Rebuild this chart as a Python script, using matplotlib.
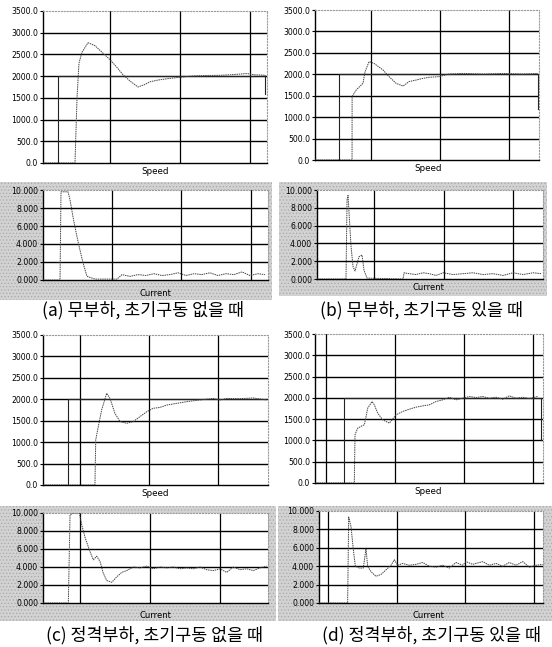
import numpy as np
import matplotlib
matplotlib.use('Agg')
import matplotlib.pyplot as plt
from matplotlib.patches import Rectangle

# figure size in pixels
W, H = 552, 647

# axis ticks / labels
speed_ticks = [0, 500, 1000, 1500, 2000, 2500, 3000, 3500]
speed_labels = ['0.0', '500.0', '1000.0', '1500.0', '2000.0', '2500.0', '3000.0', '3500.0']
current_ticks = [0, 2, 4, 6, 8, 10]
current_labels = ['0.000', '2.000', '4.000', '6.000', '8.000', '10.000']
time_grid = [1, 2, 3, 4]

captions = ['(a) 무부하, 초기구동 없을 때', '(b) 무부하, 초기구동 있을 때',
            '(c) 정격부하, 초기구동 없을 때', '(d) 정격부하, 초기구동 있을 때']

# (a) no load, no initial drive
a_ref_t = [0.04, 0.257, 0.257, 3.214, 3.214]
a_ref_v = [0, 0, 2000, 2000, 1600]
a_speed_t = [0.043, 0.5, 0.529, 0.557, 0.6, 0.686, 0.786, 0.9, 1.0, 1.1, 1.186, 1.3, 1.4,
             1.486, 1.571, 1.686, 1.814, 2.0, 2.186, 2.386, 2.571, 2.757, 2.957, 3.071,
             3.186, 3.229]
a_speed_v = [0, 0, 1500, 2300, 2550, 2770, 2700, 2530, 2380, 2200, 2030, 1870, 1750,
             1800, 1870, 1910, 1940, 1975, 2005, 2015, 2020, 2035, 2060, 2030, 2025, 2010]
a_cur_t = [0.007, 0.252, 0.266, 0.367, 0.396, 0.439, 0.496, 0.54, 0.583, 0.64, 0.755, 1.072,
           1.144, 1.259, 1.374, 1.489, 1.604, 1.719, 1.835, 1.95, 2.065, 2.18, 2.295, 2.41,
           2.525, 2.64, 2.755, 2.871, 2.986, 3.101, 3.201]
a_cur_v = [0, 0, 9.8, 9.8, 8.9, 7.0, 4.8, 3.3, 1.9, 0.4, 0.1, 0.1,
           0.6, 0.4, 0.6, 0.5, 0.7, 0.5, 0.6, 0.8, 0.5, 0.7, 0.6, 0.8,
           0.5, 0.7, 0.6, 0.9, 0.5, 0.7, 0.6]

# (b) no load, with initial drive
b_ref_t = [0.19, 0.536, 0.536, 3.425, 3.425]
b_ref_v = [0, 0, 2000, 2000, 1200]
b_speed_t = [0.188, 0.725, 0.726, 0.783, 0.884, 0.913, 0.971, 1.043, 1.174, 1.261, 1.362,
             1.464, 1.551, 1.652, 1.754, 1.841, 1.986, 2.13, 2.333, 2.623, 2.913, 3.203, 3.42]
b_speed_v = [0, 0, 1480, 1630, 1790, 2060, 2295, 2255, 2100, 1945, 1790,
             1725, 1830, 1865, 1905, 1930, 1945, 2005, 2020, 2005, 2020, 2005, 2020]
b_cur_t = [0.18, 0.597, 0.612, 0.626, 0.669, 0.698, 0.727, 0.784, 0.827, 0.856, 0.899, 1.417,
           1.432, 1.504, 1.604, 1.705, 1.791, 1.892, 1.993, 2.137, 2.281, 2.424, 2.568,
           2.712, 2.856, 3.0, 3.144, 3.288, 3.403]
b_cur_v = [0, 0, 8.9, 9.4, 3.7, 1.4, 0.9, 2.5, 2.7, 1.0, 0.1, 0.0,
           0.7, 0.6, 0.5, 0.7, 0.6, 0.4, 0.7, 0.5, 0.6, 0.7, 0.5,
           0.6, 0.4, 0.7, 0.5, 0.7, 0.6]

# (c) rated load, no initial drive
c_ref_t = [0.47, 0.826, 0.826, 3.72]
c_ref_v = [0, 0, 2000, 2000]
c_speed_t = [0.464, 1.217, 1.228, 1.265, 1.314, 1.387, 1.435, 1.507, 1.58, 1.677, 1.772,
             1.87, 1.967, 2.062, 2.159, 2.257, 2.401, 2.546, 2.739, 2.932, 3.029, 3.126,
             3.319, 3.512, 3.706]
c_speed_v = [0, 0, 1050, 1360, 1750, 2140, 2020, 1670, 1480, 1440, 1480,
             1595, 1710, 1790, 1810, 1865, 1905, 1945, 1985, 2020, 1985, 2020,
             2015, 2030, 1985]
c_cur_t = [0.471, 0.833, 0.857, 0.905, 0.99, 1.024, 1.071, 1.143, 1.19, 1.239, 1.286, 1.333,
           1.381, 1.453, 1.524, 1.596, 1.667, 1.761, 1.857, 1.953, 2.047, 2.143, 2.239,
           2.333, 2.429, 2.524, 2.619, 2.714, 2.81, 2.904, 3.0, 3.096, 3.19, 3.286, 3.381,
           3.476, 3.571, 3.667]
c_cur_v = [0, 0, 9.8, 10, 10, 8.7, 7.3, 5.7, 4.8, 5.2, 4.6, 3.3,
           2.5, 2.3, 2.9, 3.4, 3.6, 4.0, 3.9, 4.1, 3.8, 4.0, 3.9,
           4.0, 3.8, 3.9, 3.8, 4.0, 3.7, 3.6, 3.8, 3.4, 4.0, 3.7, 3.8,
           3.6, 3.9, 4.1]

# (d) rated load, with initial drive
d_ref_t = [0.85, 1.261, 1.261, 4.116, 4.116]
d_ref_v = [0, 0, 2000, 2000, 1020]
d_speed_t = [0.84, 1.41, 1.42, 1.459, 1.522, 1.556, 1.604, 1.667, 1.7, 1.749, 1.821, 1.918,
             1.976, 2.014, 2.111, 2.208, 2.304, 2.401, 2.498, 2.594, 2.691, 2.787, 2.884,
             2.981, 3.077, 3.174, 3.271, 3.367, 3.464, 3.561, 3.657, 3.754, 3.851, 3.947,
             4.068]
d_speed_v = [0, 0, 1133, 1289, 1344, 1367, 1758, 1914, 1836, 1640, 1484, 1406,
             1523, 1601, 1680, 1734, 1781, 1812, 1836, 1914, 1953, 2015, 1953,
             1992, 2031, 2008, 2031, 1992, 2015, 1969, 2047, 1992, 2015, 1984,
             2031]
d_cur_t = [0.869, 1.286, 1.301, 1.335, 1.369, 1.398, 1.456, 1.514, 1.553, 1.577, 1.626,
           1.699, 1.771, 1.844, 1.917, 1.966, 2.014, 2.087, 2.184, 2.281, 2.378, 2.475,
           2.572, 2.669, 2.766, 2.863, 2.961, 3.009, 3.106, 3.252, 3.348, 3.445, 3.542,
           3.639, 3.737, 3.834, 3.93, 4.028, 4.125]
d_cur_v = [0, 0, 9.35, 8.3, 5.8, 4.0, 3.8, 3.8, 5.9, 4.0, 3.4,
           2.9, 3.1, 3.6, 4.1, 4.7, 4.1, 4.3, 4.1, 4.2, 4.4, 4.0,
           3.9, 4.1, 3.8, 4.4, 4.1, 4.5, 4.2, 4.5, 4.1, 4.3, 4.0,
           4.4, 4.1, 4.5, 3.9, 4.1, 4.2]

plt.rcParams['font.family'] = ['DejaVu Sans']
plt.rcParams['hatch.linewidth'] = 0.5

fig = plt.figure(figsize=(W / 100, H / 100), dpi=100)
fig.patch.set_facecolor('white')


def rect(l, t, r, b):
    # pixel box -> figure fraction
    return [l / W, 1 - b / H, (r - l) / W, (b - t) / H]


def style_axes(ax, ticks, labels, xlim, ylim):
    ax.set_xlim(*xlim)
    ax.set_ylim(*ylim)
    ax.set_yticks(ticks)
    ax.set_yticklabels(labels)
    ax.set_xticks([])
    ax.tick_params(axis='y', length=2.5, width=0.8, pad=1, labelsize=5.6)
    for y in ticks[1:-1]:
        ax.axhline(y, color='black', lw=1.0, zorder=1)
    for x in time_grid:
        if xlim[0] < x < xlim[1]:
            ax.axvline(x, color='black', lw=0.9, zorder=1)
    ax.spines['left'].set_linewidth(1.0)
    ax.spines['bottom'].set_linewidth(1.0)
    for s in ['top', 'right']:
        ax.spines[s].set_color('#9a9a9a')
        ax.spines[s].set_linestyle(':')
        ax.spines[s].set_linewidth(0.8)


panels = [
    dict(speed=rect(43, 11, 267, 163), cur=rect(43, 190, 268, 280),
         sx=(0.043, 3.243), cx=(0.007, 3.245), gray=(0, 182, 272, 300),
         speed_lbl=(155, 171), cur_lbl=(155, 293), cap=(143, 310),
         ref=(a_ref_t, a_ref_v), spd=(a_speed_t, a_speed_v), cu=(a_cur_t, a_cur_v)),
    dict(speed=rect(315, 10, 539, 160), cur=rect(317, 190, 543, 279),
         sx=(0.188, 3.435), cx=(0.18, 3.43), gray=(279, 182, 547, 296),
         speed_lbl=(428, 168), cur_lbl=(428, 288), cap=(422, 310),
         ref=(b_ref_t, b_ref_v), spd=(b_speed_t, b_speed_v), cu=(b_cur_t, b_cur_v)),
    dict(speed=rect(43, 335, 268, 485), cur=rect(43, 513, 268, 603),
         sx=(0.464, 3.725), cx=(0.471, 3.686), gray=(0, 506, 276, 621),
         speed_lbl=(155, 493), cur_lbl=(155, 616), cap=(154, 635),
         ref=(c_ref_t, c_ref_v), spd=(c_speed_t, c_speed_v), cu=(c_cur_t, c_cur_v)),
    dict(speed=rect(315, 334, 543, 483), cur=rect(319, 511, 543, 603),
         sx=(0.84, 4.145), cx=(0.869, 4.13), gray=(278, 506, 552, 621),
         speed_lbl=(428, 492), cur_lbl=(428, 615), cap=(431, 635),
         ref=(d_ref_t, d_ref_v), spd=(d_speed_t, d_speed_v), cu=(d_cur_t, d_cur_v)),
]

for p, cap in zip(panels, captions):
    gx0, gy0, gx1, gy1 = p['gray']
    fig.patches.append(Rectangle((gx0 / W, 1 - gy1 / H), (gx1 - gx0) / W, (gy1 - gy0) / H,
                                 transform=fig.transFigure, facecolor='#d2d2d2',
                                 edgecolor='#a8a8a8', hatch='.....', lw=0, zorder=-10))

    ax = fig.add_axes(p['speed'])
    ax.set_facecolor('none')
    style_axes(ax, speed_ticks, speed_labels, p['sx'], (0, 3500))
    ax.plot(*p['ref'], color='#222222', lw=0.8, zorder=2)
    ax.plot(*p['spd'], color='#444444', lw=0.7, ls=(0, (1.5, 0.8)), zorder=3)

    ax2 = fig.add_axes(p['cur'])
    ax2.set_facecolor('white')
    style_axes(ax2, current_ticks, current_labels, p['cx'], (0, 10))
    ax2.plot(*p['cu'], color='#444444', lw=0.7, ls=(0, (1.5, 0.8)), zorder=3)

    fig.text(p['speed_lbl'][0] / W, 1 - p['speed_lbl'][1] / H, 'Speed',
             ha='center', va='center', fontsize=6.3)
    fig.text(p['cur_lbl'][0] / W, 1 - p['cur_lbl'][1] / H, 'Current',
             ha='center', va='center', fontsize=6)
    fig.text(p['cap'][0] / W, 1 - p['cap'][1] / H, cap, ha='center', va='center',
             fontsize=12.5, fontweight='medium',
             family=['Noto Sans CJK KR', 'DejaVu Sans'])

fig.savefig('out.png', dpi=100, facecolor='white')
